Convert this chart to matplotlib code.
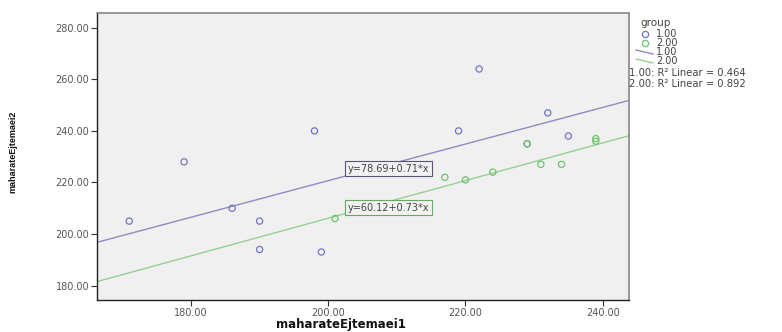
import numpy as np
import matplotlib
matplotlib.use("Agg")
import matplotlib.pyplot as plt
from matplotlib.lines import Line2D

# group 1.00
g1_x = [171, 179, 186, 190, 190, 198, 199, 219, 222, 232, 229, 235]
g1_y = [205, 228, 210, 205, 194, 240, 193, 240, 264, 247, 235, 238]
# group 2.00
g2_x = [201, 217, 220, 224, 231, 234, 239, 239, 229]
g2_y = [206, 222, 221, 224, 227, 227, 237, 236, 235]

# fit lines
fit_intercept = [78.69, 60.12]
fit_slope = [0.71, 0.73]
fit_r2 = ["0.464", "0.892"]
group_names = ["1.00", "2.00"]

x_ticks = [180, 200, 220, 240]
y_ticks = [180, 200, 220, 240, 260, 280]

blue = "#7474c4"
green = "#6cc46c"
blue_line = "#8c8cc4"
green_line = "#94d094"

fig = plt.figure(figsize=(7.82, 3.32), dpi=100)
ax = fig.add_axes([0.124, 0.0964, 0.680, 0.865])
ax.set_facecolor("#f0f0f0")

xlim = (166.3, 243.8)
ylim = (174.4, 285.8)
ax.set_xlim(*xlim)
ax.set_ylim(*ylim)

# regression lines across the whole axis
xs = np.array(xlim)
for b0, b1, c in zip(fit_intercept, fit_slope, [blue_line, green_line]):
    ax.plot(xs, b0 + b1 * xs, color=c, lw=1.0, zorder=2)

ax.scatter(g1_x, g1_y, s=20, facecolors="none", edgecolors=blue, linewidths=0.9, zorder=3)
ax.scatter(g2_x, g2_y, s=20, facecolors="none", edgecolors=green, linewidths=0.9, zorder=3)

# equation boxes
ax.text(208.8, 225.3, "y=78.69+0.71*x", fontsize=7, color="#444444", ha="center", va="center",
        bbox=dict(boxstyle="square,pad=0.25", fc="#f2f2f2", ec="#555577", lw=0.8), zorder=4)
ax.text(208.8, 210.2, "y=60.12+0.73*x", fontsize=7, color="#444444", ha="center", va="center",
        bbox=dict(boxstyle="square,pad=0.25", fc="#f2f2f2", ec="#66aa66", lw=0.8), zorder=4)

ax.set_xticks(x_ticks)
ax.set_xticklabels([f"{v:.2f}" for v in x_ticks])
ax.set_yticks(y_ticks)
ax.set_yticklabels([f"{v:.2f}" for v in y_ticks])
ax.tick_params(axis="both", direction="out", length=4, width=0.8, color="#333333",
               labelsize=7, labelcolor="#555555", pad=1.5)

for side in ["left", "bottom"]:
    ax.spines[side].set_color("#222222")
    ax.spines[side].set_linewidth(1.0)
for side in ["top", "right"]:
    ax.spines[side].set_color("#888888")
    ax.spines[side].set_linewidth(1.2)

ax.set_xlabel("maharateEjtemaei1", fontsize=8.5, fontweight="bold", color="#111111")
ax.xaxis.set_label_coords(0.459, -0.064)
fig.text(0.016, 0.542, "maharateEjtemaei2", rotation=90, fontsize=6.5, fontweight="bold",
         family="Liberation Sans", color="#111111", ha="center", va="center")

# legend drawn by hand, outside the axes
W, H = 782.0, 332.0
def fx(px):
    return px / W
def fy(py):
    return 1 - py / H

fig.text(fx(640), fy(23), "group", fontsize=7.5, color="#444444", va="center")
for i, (name, c) in enumerate(zip(group_names, [blue, green])):
    y = 34 + i * 9
    fig.add_artist(Line2D([fx(645)], [fy(y)], marker="o", ms=4.5, mfc="none", mec=c,
                          mew=0.9, transform=fig.transFigure))
    fig.text(fx(656), fy(y), name, fontsize=7, color="#444444", va="center")
for i, (name, c) in enumerate(zip(group_names, [blue_line, green_line])):
    y = 52 + i * 9
    fig.add_artist(Line2D([fx(636), fx(653)], [fy(y - 2), fy(y + 2)], color=c, lw=1.0,
                          transform=fig.transFigure))
    fig.text(fx(656), fy(y), name, fontsize=7, color="#444444", va="center")
for i, (name, r2) in enumerate(zip(group_names, fit_r2)):
    y = 73 + i * 11
    fig.text(fx(629), fy(y), f"{name}: R\u00b2 Linear = {r2}", fontsize=7.2,
             color="#444444", va="center")

fig.savefig("out.png", dpi=100, facecolor="white")
